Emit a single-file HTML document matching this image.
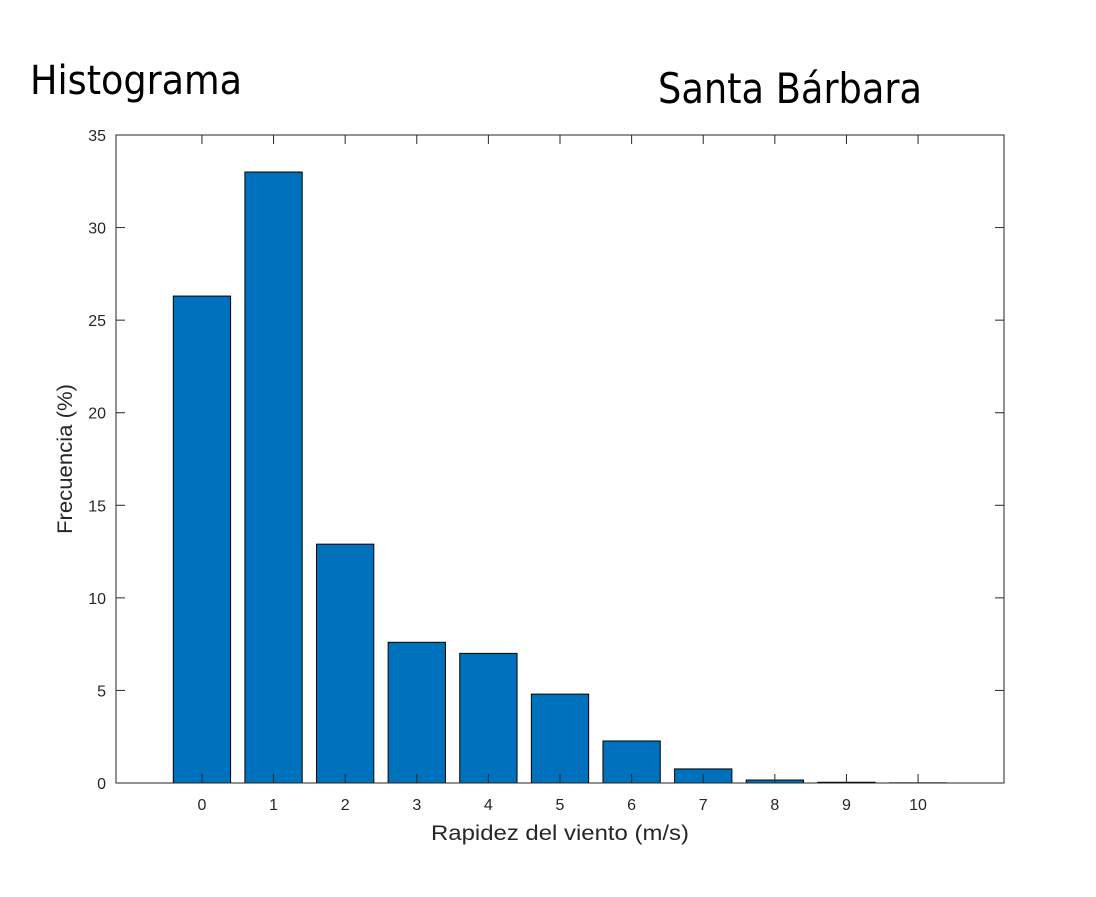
<!DOCTYPE html>
<html><head><meta charset="utf-8"><style>
body{margin:0;background:#fff;}
svg{display:block;font-family:"Liberation Sans",sans-serif;}
</style></head><body>
<svg id="chart" width="1096" height="897" viewBox="0 0 1096 897">
<text x="30" y="94" font-family="DejaVu Sans Condensed, DejaVu Sans, sans-serif" font-size="40" fill="#000" textLength="212" lengthAdjust="spacingAndGlyphs">Histograma</text>
<text x="658" y="103" font-family="DejaVu Sans Condensed, DejaVu Sans, sans-serif" font-size="42" fill="#000" textLength="264" lengthAdjust="spacingAndGlyphs">Santa Bárbara</text>
<g id="plot"></g>
</svg>
<script>
const categories=[0,1,2,3,4,5,6,7,8,9,10];
const frequency=[26.3,33.0,12.9,7.6,7.0,4.8,2.27,0.76,0.16,0.04,0.01];
const yTicks=[0,5,10,15,20,25,30,35];
const xTicks=[0,1,2,3,4,5,6,7,8,9,10];
const L=116,R=1004,T=135,B=783,xmin=-1.2,xmax=11.2,ymax=35;
const xs=v=>L+(v-xmin)/(xmax-xmin)*(R-L);
const ys=v=>B-v/ymax*(B-T);
const g=document.getElementById('plot');
const NS='http://www.w3.org/2000/svg';
function mk(t,a){const e=document.createElementNS(NS,t);for(const k in a)e.setAttribute(k,a[k]);g.appendChild(e);return e;}
categories.forEach((c,i)=>{
 const x0=xs(c-0.4),x1=xs(c+0.4),y=ys(frequency[i]);
 const r=mk('rect',{x:x0,y:y,width:x1-x0,height:B-y,fill:'#0072bd',stroke:'#000','stroke-width':1});
 
 
});
const box=mk('rect',{x:L,y:T,width:R-L,height:B-T,fill:'none',stroke:'#262626','stroke-width':1});


yTicks.forEach(v=>{
 const y=ys(v);
 mk('line',{x1:L,x2:L+9,y1:y,y2:y,stroke:'#262626'});
 mk('line',{x1:R,x2:R-9,y1:y,y2:y,stroke:'#262626'});
 const t=mk('text',{x:L-10,y:y+6,'text-anchor':'end','font-size':16,fill:'#262626'});
 t.textContent=v;
 
 
});
xTicks.forEach(v=>{
 const x=xs(v);
 mk('line',{x1:x,x2:x,y1:B,y2:B-9,stroke:'#262626'});
 mk('line',{x1:x,x2:x,y1:T,y2:T+9,stroke:'#262626'});
 const t=mk('text',{x:x,y:B+27,'text-anchor':'middle','font-size':16,fill:'#262626'});
 t.textContent=v;
 
 
});
const xl=mk('text',{x:(L+R)/2,y:840,'text-anchor':'middle','font-size':21,fill:'#262626',textLength:258,lengthAdjust:'spacingAndGlyphs'});
xl.textContent='Rapidez del viento (m/s)';


const yl=mk('text',{x:0,y:0,'text-anchor':'middle','font-size':21,fill:'#262626',textLength:150,lengthAdjust:'spacingAndGlyphs',transform:'translate(72,459) rotate(-90)'});
yl.textContent='Frecuencia (%)';


</script>
</body></html>
